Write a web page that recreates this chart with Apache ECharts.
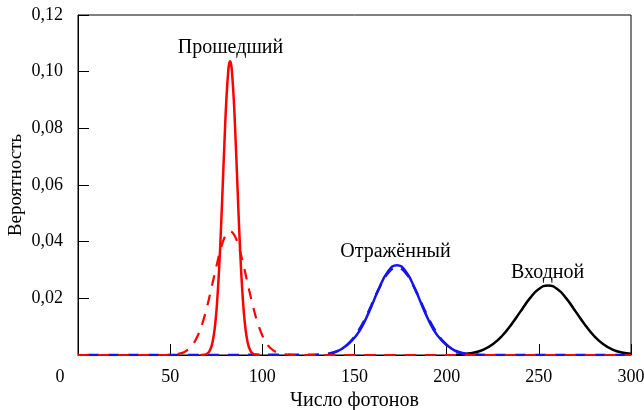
<!DOCTYPE html>
<html>
<head>
<meta charset="utf-8">
<script src="https://cdn.jsdelivr.net/npm/echarts@6/dist/echarts.min.js"></script>
<style>
html,body{margin:0;padding:0;background:#fff;}
#chart{width:644px;height:410px;}
</style>
</head>
<body>
<div id="chart"></div>
<script>
// Tick labels
var xTickLabels = ['0', '50', '100', '150', '200', '250', '300'];
var yTickLabels = ['', '0,02', '0,04', '0,06', '0,08', '0,10', '0,12'];

// Прошедший (solid red)
var transSolidX = [66.5, 68.5, 70.5, 71.5, 72.5, 73.5, 74.5, 75.5, 76.5, 77.5, 78.5, 79.5, 80.5, 81.5, 82, 82.5, 83, 83.5, 84.5, 85.5, 86.5, 87.5, 88.5, 89.5, 90.5, 91.5, 92.5, 93.5, 94.5, 96.5, 98.5];
var transSolidY = [0, 0.0001, 0.0007, 0.0016, 0.0032, 0.0063, 0.0113, 0.0190, 0.0298, 0.0436, 0.0596, 0.0759, 0.0903, 0.1002, 0.1028, 0.1037, 0.1028, 0.1002, 0.0903, 0.0759, 0.0596, 0.0436, 0.0298, 0.0190, 0.0113, 0.0063, 0.0032, 0.0016, 0.0007, 0.0001, 0];

// Прошедший (dashed red)
var transDashX = [0, 47.5, 52.5, 55, 57.5, 60, 62.5, 65, 67.5, 70, 72.5, 75, 77.5, 80, 82.5, 85, 87.5, 90, 92.5, 95, 97.5, 100, 102.5, 105, 107.5, 110, 112.5, 117.5, 300];
var transDashY = [0, 0, 0.0002, 0.0005, 0.0010, 0.0021, 0.0039, 0.0069, 0.0112, 0.0170, 0.0239, 0.0311, 0.0376, 0.0421, 0.0437, 0.0421, 0.0376, 0.0311, 0.0239, 0.0170, 0.0112, 0.0069, 0.0039, 0.0021, 0.0010, 0.0005, 0.0002, 0, 0];

// Отражённый (solid blue)
var reflSolidX = [138, 143, 148, 153, 158, 163, 168, 173, 178, 183, 188, 193, 198, 203, 208, 213];
var reflSolidY = [0.0006, 0.0021, 0.0047, 0.0088, 0.0154, 0.0230, 0.0293, 0.0317, 0.0293, 0.0230, 0.0154, 0.0088, 0.0047, 0.0021, 0.0006, 0.0002];

// Отражённый (dashed blue)
var reflDashX = [0, 128, 133, 138, 143, 148, 153, 158, 163, 168, 173, 178, 183, 188, 193, 198, 203, 208, 213, 218, 223, 300];
var reflDashY = [0, 0.0001, 0.0003, 0.0008, 0.0022, 0.0049, 0.0095, 0.0159, 0.0231, 0.0288, 0.0310, 0.0288, 0.0231, 0.0159, 0.0095, 0.0049, 0.0022, 0.0008, 0.0003, 0.0001, 0, 0];

// Входной (solid black)
var inputX = [205, 210, 215, 220, 225, 230, 235, 240, 245, 250, 255, 260, 265, 270, 275, 280, 285, 290, 295, 300];
var inputY = [0.0001, 0.0004, 0.0009, 0.0019, 0.0038, 0.0067, 0.0107, 0.0153, 0.0199, 0.0233, 0.0245, 0.0233, 0.0199, 0.0153, 0.0107, 0.0067, 0.0038, 0.0019, 0.0009, 0.0004];

// Curve labels
var labelNames = ['Прошедший', 'Отражённый', 'Входной'];
var labelX = [83, 172.5, 255];
var labelY = [0.1082, 0.0362, 0.0288];

function zip(xs, ys) { return xs.map(function (x, i) { return [x, ys[i]]; }); }

var FONT = "'Liberation Serif', 'Times New Roman', serif";
var chart = echarts.init(document.getElementById('chart'), null, {renderer: 'canvas'});

chart.setOption({
  animation: false,
  backgroundColor: '#fff',
  grid: {left: 78, right: 13, top: 15, bottom: 55, containLabel: false, outerBoundsMode: 'none',
    show: true, borderColor: '#000', borderWidth: 1, backgroundColor: 'transparent'},
  xAxis: {
    type: 'value', min: 0, max: 300, interval: 50,
    name: 'Число фотонов', nameLocation: 'middle', nameGap: 36, nameMoveOverlap: false,
    nameTextStyle: {fontFamily: FONT, fontSize: 20, color: '#000'},
    axisLine: {show: true, lineStyle: {color: '#000', width: 1}},
    axisTick: {show: true, inside: true, length: 11, lineStyle: {color: '#000'}},
    splitLine: {show: false},
    axisLabel: {
      fontFamily: FONT, fontSize: 18, color: '#000', margin: 13,
      formatter: function (v, i) { return i === 0 ? '{z|' + xTickLabels[i] + '}' : xTickLabels[i]; },
      rich: {z: {fontFamily: FONT, fontSize: 18, color: '#000', padding: [0, 36, 0, 0]}}
    }
  },
  yAxis: {
    type: 'value', min: 0, max: 0.12, interval: 0.02,
    name: 'Вероятность', nameLocation: 'middle', nameGap: 52, nameMoveOverlap: false,
    nameTextStyle: {fontFamily: FONT, fontSize: 19, color: '#000'},
    axisLine: {show: true, lineStyle: {color: '#000', width: 1}},
    axisTick: {show: true, inside: true, length: 11, lineStyle: {color: '#000'}},
    splitLine: {show: false},
    axisLabel: {
      fontFamily: FONT, fontSize: 18, color: '#000', margin: 15,
      formatter: function (v, i) { return yTickLabels[i]; }
    }
  },
  series: [
    {type: 'line', data: zip(inputX, inputY), showSymbol: false, smooth: true,
      lineStyle: {color: '#000', width: 2.5}},
    {type: 'line', data: zip(reflDashX, reflDashY), showSymbol: false, smooth: 0.4,
      lineStyle: {color: '#1414f0', width: 2.5, type: [11, 9], dashOffset: 10}},
    {type: 'line', data: zip(reflSolidX, reflSolidY), showSymbol: false, smooth: true,
      lineStyle: {color: '#1414f0', width: 2.5}},
    {type: 'line', data: zip(transDashX, transDashY), showSymbol: false, smooth: 0.4,
      lineStyle: {color: '#ff0000', width: 2.2, type: [11, 9]}},
    {type: 'line', data: zip(transSolidX, transSolidY), showSymbol: false, smooth: true,
      lineStyle: {color: '#ff0000', width: 2.5}},
    {type: 'scatter', symbolSize: 1, silent: true,
      data: labelNames.map(function (n, i) { return [labelX[i], labelY[i], n]; }),
      itemStyle: {color: '#fff', opacity: 0},
      label: {show: true, position: [0, 0], align: 'center', verticalAlign: 'middle',
        formatter: function (p) { return p.value[2]; },
        fontFamily: FONT, fontSize: 20, color: '#000', opacity: 1, textBorderWidth: 0}}
  ]
});
</script>
</body>
</html>
